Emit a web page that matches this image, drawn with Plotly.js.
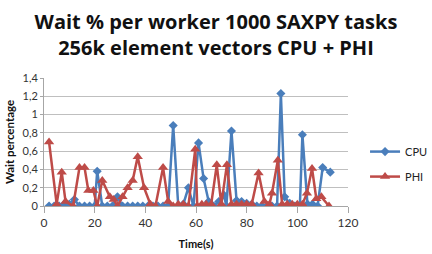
<!DOCTYPE html>
<html>
<head>
<meta charset="utf-8">
<script src="https://cdn.plot.ly/plotly-3.0.1.min.js"></script>
<style>html,body{margin:0;padding:0;background:#fff;}#chart{width:432px;height:254px;}</style>
</head>
<body>
<div id="chart"></div>
<script>
const titleText = "Wait % per worker 1000 SAXPY tasks<br>256k element vectors CPU + PHI";
const xTitle = "Time(s)";
const yTitle = "Wait percentage";
const yTickVals = [0, 0.2, 0.4, 0.6, 0.8, 1, 1.2, 1.4];
const yTickText = ["0", "0,2", "0,4", "0,6", "0,8", "1", "1,2", "1,4"];

const cpuTime = [2,4,6,8,10,12,14,16,18,20,21,23,25,27,29,31,33,35,37,39,41,43,45,47,49,51,53,55,57,59,61,63,65,67,69,71,72,74,76,78,80,82,84,86,88,90,92,93.5,95,97,99,101,102,104,106,108,110,113];
const cpuWait = [0,0,0,0.02,0.02,0.07,0,0,0,0,0.38,0,0,0,0.1,0,0,0,0,0,0,0,0,0,0,0.88,0,0.02,0.2,0,0.69,0.3,0.05,0,0.05,0.12,0,0.82,0.06,0.05,0.03,0.02,0,0,0,0,0,1.23,0.1,0.03,0,0,0.78,0.02,0.02,0,0.42,0.37];

const phiTime = [2,5,7,8.5,11.5,14,16,17.5,19.5,21,23,26,27.5,29,31,33,35,37,39.5,42,44,47,49,51,53,55,57,59.7,60.5,62.3,64,66,68.2,70,72.2,74,76,78,80,82,84.7,87,89,90,92.3,94,96,98,100,102,103.8,105.8,107.5,109.5,112.5];
const phiWait = [0.7,0.02,0.37,0.05,0,0.42,0.42,0.17,0.17,0,0.28,0.1,0.07,0,0.1,0.2,0.28,0.54,0.2,0.02,0,0.42,0.05,0,0.02,0.02,0,0.62,0,0.02,0.02,0.02,0.45,0.02,0.45,0.02,0.02,0.02,0.02,0.02,0.36,0.05,0.02,0.14,0.5,0.02,0.02,0.02,0.02,0.02,0.14,0.41,0.08,0.1,0];

const data = [
  {x: cpuTime, y: cpuWait, name: "CPU", type: "scatter", mode: "lines+markers",
   line: {color: "#4A7EBB", width: 2.5}, marker: {symbol: "diamond", size: 7, color: "#4A7EBB"}},
  {x: phiTime, y: phiWait, name: "PHI", type: "scatter", mode: "lines+markers", legendgroup: "b",
   line: {color: "#BE4B48", width: 2.5}, marker: {symbol: "triangle-up", size: 9, color: "#BE4B48"}}
];

const layout = {
  width: 432, height: 254,
  margin: {l: 44, r: 84, t: 78, b: 48},
  paper_bgcolor: "#fff", plot_bgcolor: "#fff",
  font: {family: "Lato, 'Open Sans', sans-serif", color: "#222"},
  title: {text: titleText, font: {size: 20, family: "'Open Sans', Lato, sans-serif", weight: "bold", color: "#111"},
          x: 0.5, xanchor: "center", yref: "container", y: 0.885, yanchor: "middle", automargin: false},
  xaxis: {range: [0, 120], dtick: 20, tick0: 0, showgrid: false, zeroline: false,
          showline: true, linecolor: "#A6A6A6", linewidth: 1, ticks: "outside", ticklen: 6, tickcolor: "#A6A6A6",
          tickfont: {size: 12, color: "#333"},
          title: {text: xTitle, font: {size: 11, weight: "bold", color: "#111"}, standoff: 10}},
  yaxis: {range: [0, 1.4], tickvals: yTickVals, ticktext: yTickText, showgrid: true, gridcolor: "#BFBFBF", gridwidth: 1,
          zeroline: false, showline: true, linecolor: "#A6A6A6", linewidth: 1, ticks: "outside", ticklen: 3, tickcolor: "#A6A6A6",
          tickfont: {size: 11, color: "#333"},
          title: {text: yTitle, font: {size: 11.5, weight: "bold", color: "#111"}, standoff: 5}},
  showlegend: true,
  legend: {xref: "container", yref: "container", x: 0.845, xanchor: "left", y: 0.354, yanchor: "middle",
           font: {size: 11, color: "#222"}, itemwidth: 30, tracegroupgap: 6, bgcolor: "rgba(0,0,0,0)"}
};

Plotly.newPlot("chart", data, layout, {displayModeBar: false, staticPlot: true});
</script>
</body>
</html>
